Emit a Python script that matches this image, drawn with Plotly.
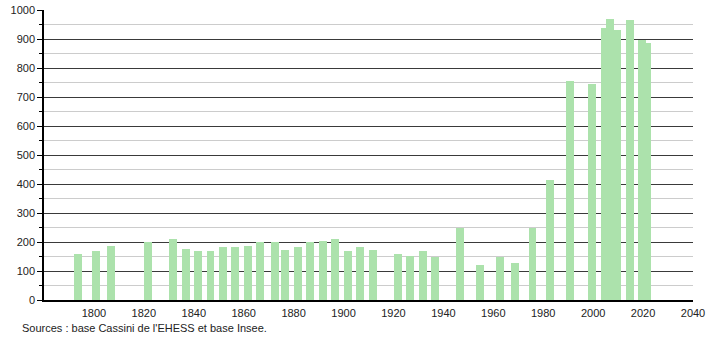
import plotly.graph_objects as go

years = [1793, 1800, 1806, 1821, 1831, 1836, 1841, 1846, 1851, 1856, 1861, 1866,
         1872, 1876, 1881, 1886, 1891, 1896, 1901, 1906, 1911, 1921, 1926, 1931,
         1936, 1946, 1954, 1962, 1968, 1975, 1982, 1990, 1999, 2004, 2006, 2009,
         2014, 2019, 2021]
population = [160, 170, 185, 201, 211, 177, 168, 170, 183, 184, 187, 199,
              200, 173, 183, 199, 205, 211, 170, 183, 173, 159, 152, 168,
              147, 248, 122, 147, 128, 248, 415, 756, 746, 938, 969, 932,
              967, 898, 886]
x_ticks = [1800, 1820, 1840, 1860, 1880, 1900, 1920, 1940, 1960, 1980, 2000, 2020, 2040]
source_text = "Sources : base Cassini de l'EHESS et base Insee."

bar_color = "rgb(172,226,172)"

fig = go.Figure()
fig.add_trace(go.Bar(
    x=years, y=population,
    width=3.2, offset=-0.9,
    marker=dict(color=bar_color, line=dict(width=0)),
    hoverinfo="x+y",
))

fig.update_layout(
    width=710, height=340,
    margin=dict(l=44, r=17, t=10, b=40, autoexpand=False),
    paper_bgcolor="white", plot_bgcolor="white",
    font=dict(family="Liberation Sans, Arial, sans-serif", size=11, color="#222"),
    showlegend=False,
    bargap=0,
)
fig.update_xaxes(
    range=[1780, 2040], tickmode="array", tickvals=x_ticks,
    ticktext=[str(t) for t in x_ticks],
    showgrid=False, zeroline=False, automargin=False,
    showline=True, linecolor="black", linewidth=1.5,
    ticks="", ticklabelstandoff=2,
)
fig.update_yaxes(
    range=[0, 1000], tickmode="linear", tick0=0, dtick=100,
    showgrid=True, gridcolor="#3a3a3a", gridwidth=1,
    zeroline=False, automargin=False,
    showline=True, linecolor="black", linewidth=1.5,
    ticks="outside", ticklen=5, tickcolor="black",
    minor=dict(dtick=50, showgrid=True, gridcolor="#cccccc", gridwidth=1,
               ticks="outside", ticklen=3, tickcolor="black"),
)
fig.add_annotation(
    text=source_text, xref="paper", yref="paper",
    x=-24/649, y=-28/290, xanchor="left", yanchor="middle",
    showarrow=False, font=dict(size=11, color="#222"),
)

fig.write_html("out.html")
